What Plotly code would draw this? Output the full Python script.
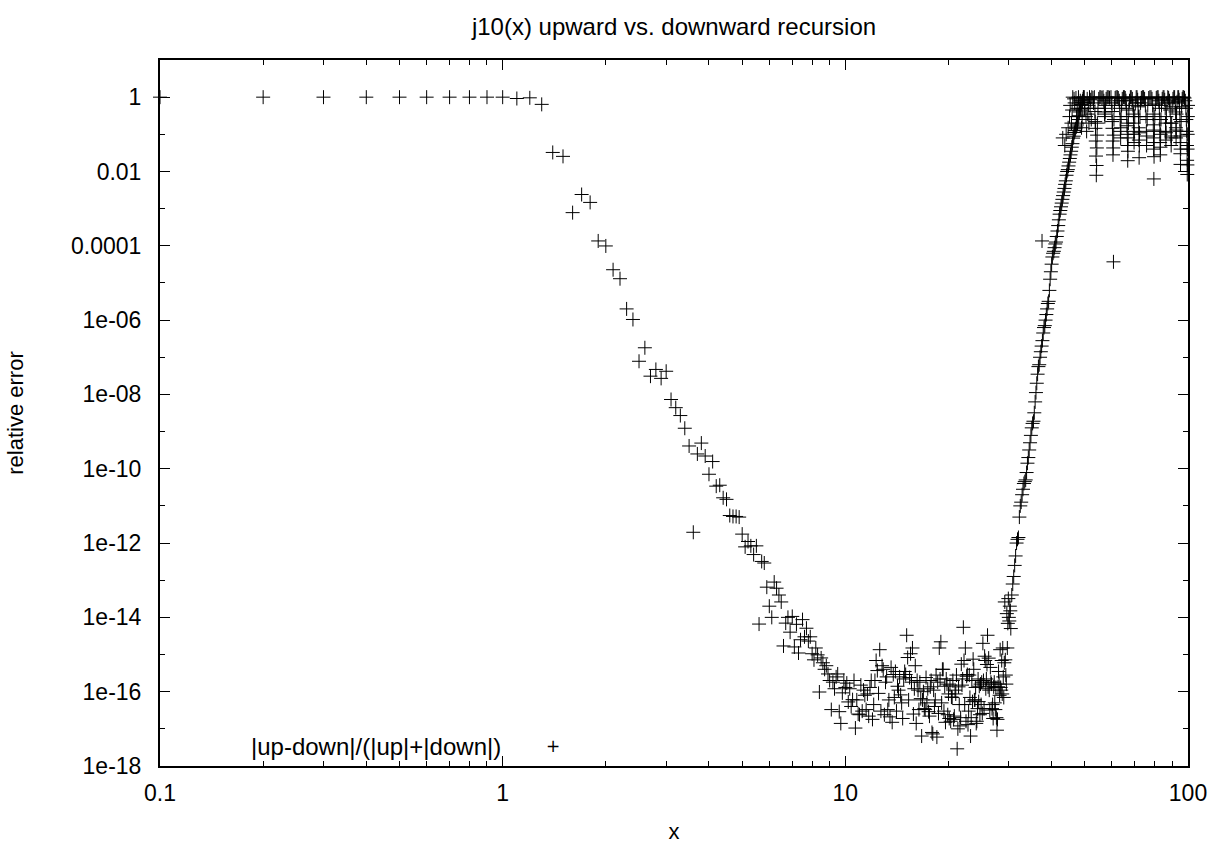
import plotly.graph_objects as go

# relative error |up-down|/(|up|+|down|) of j10(x), read point by point
x_flat = [0.1, 0.2, 0.3, 0.4, 0.5, 0.6, 0.7, 0.8, 0.9, 1.0, 1.1, 1.2, 1.3]
y_flat = [1.0, 1.0, 1.0, 1.0, 1.0, 1.0, 1.0, 1.0, 1.0, 1.0, 0.92, 0.96, 0.64]

x_decay = [1.4, 1.5, 1.6, 1.7, 1.8, 1.9, 2.0, 2.1, 2.2, 2.3, 2.4, 2.5, 2.6, 2.7, 2.8, 2.9,
           3.0, 3.1, 3.2, 3.3, 3.4, 3.5, 3.6, 3.7, 3.8, 3.9, 4.0, 4.1, 4.2, 4.3, 4.4, 4.5,
           4.6, 4.7, 4.8, 4.9, 5.0, 5.1, 5.2, 5.3, 5.4, 5.5, 5.6, 5.7, 5.8, 5.9, 6.0, 6.1,
           6.2, 6.3, 6.4, 6.5, 6.6, 6.7, 6.8, 6.9, 7.0, 7.1, 7.2, 7.3, 7.4, 7.5, 7.6, 7.7,
           7.8, 7.9, 8.0, 8.1, 8.2, 8.3, 8.4, 8.5, 8.6, 8.7, 8.8, 8.9, 9.0, 9.1, 9.2, 9.3,
           9.4, 9.5, 9.6, 9.7, 9.8, 9.9, 10.0]
y_decay = [3.25e-2, 2.55e-2, 7.8e-4, 2.4e-3, 1.47e-3, 1.35e-4, 9.9e-5, 2.27e-5, 1.3e-5,
           2.0e-6, 1.04e-6, 7.8e-8, 1.8e-7, 3.1e-8, 4.7e-8, 2.7e-8, 4.2e-8, 7.3e-9, 4.4e-9,
           2.7e-9, 1.23e-9, 4.1e-10, 1.95e-12, 2.5e-10, 4.9e-10, 2.2e-10, 7.1e-11, 1.56e-10,
           3.4e-11, 3.6e-11, 1.65e-11, 1.5e-11, 5.5e-12, 5.2e-12, 5.2e-12, 5.0e-12, 1.74e-12,
           7.9e-13, 1.1e-12, 8.4e-13, 4.9e-13, 8.4e-13, 6.6e-15, 3.2e-13, 2.9e-13, 6.5e-14,
           2.0e-14, 1.0e-14, 8.9e-14, 6.1e-14, 4.0e-14, 2.6e-14, 1.7e-15, 7.0e-15, 1.0e-14,
           4.0e-15, 1.06e-14, 1.6e-15, 6.5e-15, 1.1e-15, 2.5e-15, 8.7e-15, 3.0e-15, 5.1e-15,
           2.3e-15, 3.0e-15, 1.05e-15, 7.2e-16, 1.5e-15, 9.8e-16, 9.8e-17, 8.1e-16, 6.0e-16,
           4.0e-16, 5.0e-16, 3.0e-16, 2.0e-16, 3.3e-17, 1.8e-16, 1.2e-16, 2.5e-16, 3.0e-16,
           2.9e-17, 1.4e-17, 9.3e-17, 2.0e-16, 1.3e-16]

x_noise = [10.1, 10.2, 10.5, 10.7, 11.0, 11.3, 11.5, 11.6, 11.8, 12.0, 12.2, 12.3, 12.4,
           12.6, 12.9, 13.1, 13.3, 13.5, 13.8, 14.3, 14.5, 14.7, 14.8, 15.0, 15.1, 15.2,
           15.5, 15.6, 15.7, 16.2, 16.3, 16.4, 16.7, 16.8, 17.1, 17.5, 17.7, 18.0, 18.3,
           18.5, 18.6, 18.8, 18.9, 19.0, 19.3, 19.8, 19.9, 20.0, 20.1, 20.4, 20.7, 21.0,
           21.2, 21.4, 22.0, 22.1, 22.2, 22.4, 22.7, 23.0, 23.2, 23.5, 23.9, 24.1, 24.5,
           24.8, 25.1, 25.2, 25.3, 25.6, 25.9, 26.0, 26.1, 26.5, 26.6, 26.9, 27.0, 27.1,
           27.4, 27.7, 27.8, 27.9, 28.3, 28.5, 28.6, 28.7, 28.8, 28.9, 29.2, 29.3, 29.4,
           29.6, 29.8, 29.9, 30.1, 30.2, 30.3, 30.4]
y_noise = [1.7e-16, 5.3e-17, 6.1e-17, 1.05e-17, 2.4e-17, 1.1e-16, 3.3e-17, 8.7e-17, 1.3e-16,
           1.8e-17, 2.0e-16, 6.9e-16, 3.7e-16, 1.35e-15, 4.0e-16, 1.8e-16, 3.3e-17, 2.1e-17,
           2.9e-16, 1.1e-16, 8.2e-17, 1.9e-17, 2.2e-16, 2.9e-16, 3.3e-15, 8.3e-16, 1.05e-15,
           1.8e-16, 1.5e-15, 2.0e-16, 1.1e-16, 3.3e-17, 6.4e-18, 6.0e-17, 3.3e-17, 2.9e-17,
           1.35e-16, 7.3e-18, 6.0e-17, 6.0e-18, 1.8e-16, 1.5e-15, 2.2e-16, 2.2e-15, 4.0e-16,
           1.6e-16, 2.4e-17, 8.7e-17, 1.9e-17, 7.2e-17, 1.8e-17, 8.7e-17, 2.9e-18, 1.35e-16,
           2.2e-16, 5.4e-15, 6.9e-16, 1.5e-15, 2.9e-16, 2.8e-16, 6.4e-18, 5.4e-17, 6.0e-17,
           1.4e-17, 5.4e-17, 1.6e-16, 2.6e-17, 2.0e-15, 2.0e-16, 6.9e-16, 5.4e-16, 3.3e-15,
           1.35e-16, 4.5e-16, 1.8e-16, 4.5e-17, 1.9e-17, 1.35e-16, 3.3e-17, 9.2e-18, 1.8e-17,
           1.35e-16, 1.35e-15, 1.1e-16, 6.9e-16, 8.7e-17, 1.5e-15, 2.5e-16, 2.6e-14, 7.2e-16,
           2.8e-16, 1.26e-14, 6.9e-15, 3.2e-14, 8.0e-15, 2.0e-14, 1.5e-14, 5.0e-15]

# the denser, overlapping marks of the round-off floor between 10 and 30
x_floor = [10.3, 10.4, 10.6, 10.8, 10.9, 11.1, 11.2, 11.4, 11.7, 11.9, 12.1, 12.5, 12.7,
           12.8, 13.0, 13.2, 13.4, 13.6, 13.7, 13.9, 14.0, 14.1, 14.2, 14.4, 14.6, 14.9,
           15.3, 15.4, 15.8, 15.9, 16.0, 16.1, 16.5, 16.6, 16.9, 17.0, 17.2, 17.3, 17.4,
           17.6, 17.8, 17.9, 18.1, 18.2, 18.4, 18.7, 19.1, 19.2, 19.4, 19.5, 19.6, 19.7,
           20.2, 20.3, 20.5, 20.6, 20.8, 20.9, 21.1, 21.3, 21.5, 21.6, 21.7, 21.8, 21.9,
           22.3, 22.5, 22.6, 22.8, 22.9, 23.1, 23.3, 23.4, 23.6, 23.7, 23.8, 24.0, 24.2,
           24.3, 24.4, 24.6, 24.7, 24.9, 25.0, 25.4, 25.5, 25.7, 25.8, 26.2, 26.3, 26.4,
           26.7, 26.8, 27.2, 27.3, 27.5, 27.6, 28.0, 28.1, 28.2, 28.4, 29.0, 29.1, 29.5,
           29.7, 30.0]
y_floor = [1.2e-16, 4.0e-17, 2.0e-16, 6.0e-17, 2.5e-17, 1.5e-16, 3.0e-17, 8.0e-17, 2.2e-17,
           2.0e-16, 4.5e-17, 9.0e-17, 3.0e-17, 5.0e-16, 2.4e-17, 2.5e-16, 6.0e-17, 4.5e-16,
           1.5e-17, 7.0e-17, 3.5e-16, 3.0e-17, 1.4e-16, 2.5e-16, 5.0e-17, 3.5e-16, 6.0e-17,
           2.4e-16, 2.5e-17, 1.2e-16, 5.0e-16, 1.4e-17, 1.8e-16, 6.5e-17, 1.0e-16, 3.5e-17,
           2.4e-16, 5.0e-17, 1.2e-16, 2.2e-17, 2.0e-16, 8.0e-18, 1.1e-16, 4.0e-17, 2.8e-16,
           2.6e-17, 5.0e-17, 4.0e-16, 3.0e-17, 1.4e-16, 1.5e-17, 2.2e-16, 1.5e-16, 1.6e-17,
           7.0e-17, 2.0e-16, 2.2e-17, 1.1e-16, 2.8e-16, 1.0e-17, 4.5e-17, 1.2e-17, 2.0e-17,
           5.5e-16, 1.5e-16, 4.5e-17, 1.6e-17, 2.6e-16, 1.3e-17, 3.0e-17, 7.0e-17, 2.0e-17,
           2.0e-16, 7.5e-16, 4.0e-16, 6.0e-17, 1.3e-16, 1.6e-17, 3.5e-17, 2.2e-16, 1.4e-16,
           2.4e-17, 4.5e-17, 1.8e-16, 3.5e-17, 9.0e-16, 1.2e-16, 2.2e-16, 8.0e-16, 1.1e-16,
           3.2e-17, 1.6e-16, 3.5e-17, 1.8e-16, 5.0e-17, 1.3e-16, 2.0e-17, 3.5e-16, 1.6e-16,
           8.0e-17, 1.3e-16, 7.0e-17, 6.0e-16, 1.6e-16, 1.5e-15, 1.0e-14]

x_rise = [30.6, 30.8, 31.0, 31.2, 31.4, 31.6, 31.8, 32.0, 32.2, 32.4, 32.6, 32.8, 33.0, 33.2,
          33.4, 33.6, 33.8, 34.0, 34.2, 34.4, 34.6, 34.8, 35.0, 35.2, 35.4, 35.6, 35.8, 36.0,
          36.2, 36.4, 36.6, 36.8, 37.0, 37.2, 37.4, 37.6, 37.8, 38.0, 38.2, 38.4, 38.6, 38.8,
          39.0, 39.2, 39.4, 39.6, 39.8, 40.0, 40.2, 40.4, 40.6, 40.8, 41.0, 41.2, 41.4, 41.6,
          41.8, 42.0, 42.2, 42.4, 42.6, 42.8, 43.0, 43.2, 43.4, 43.6, 43.8, 44.0, 44.2, 44.4,
          44.6, 44.8, 45.0, 45.2, 45.4, 45.6, 45.8, 46.0, 46.2, 46.4, 46.6, 46.8, 47.0, 47.2,
          47.4, 47.6, 47.8, 48.0, 48.2, 48.4, 48.6, 48.8, 49.0, 49.2, 49.4, 49.6, 49.8]
y_rise = [4.0e-14, 7.9e-14, 1.26e-13, 2.5e-13, 4.5e-13, 1.0e-12, 1.26e-12, 1.41e-12, 5.0e-12,
          1.0e-11, 1.26e-11, 2.0e-11, 2.8e-11, 4.0e-11, 4.5e-11, 5.0e-11, 7.9e-11, 1.41e-10,
          2.0e-10, 3.2e-10, 5.0e-10, 7.9e-10, 1.26e-9, 1.66e-9, 1.9e-9, 3.2e-9, 6.3e-9,
          1.12e-8, 2.0e-8, 3.5e-8, 5.6e-8, 6.3e-8, 1.0e-7, 1.41e-7, 2.0e-7, 2.8e-7, 4.5e-7,
          6.3e-7, 7.1e-7, 1.0e-6, 1.41e-6, 2.0e-6, 2.8e-6, 3.2e-6, 6.3e-6, 1.26e-5, 2.0e-5,
          3.2e-5, 5.0e-5, 6.3e-5, 7.1e-5, 8.9e-5, 1.12e-4, 1.26e-4, 1.78e-4, 2.5e-4, 3.5e-4,
          5.0e-4, 7.1e-4, 8.9e-4, 1.12e-3, 1.41e-3, 1.78e-3, 2.24e-3, 2.8e-3, 3.5e-3, 4.5e-3,
          5.6e-3, 7.9e-3, 1.0e-2, 1.12e-2, 1.41e-2, 1.78e-2, 2.24e-2, 2.8e-2, 3.5e-2, 4.5e-2,
          5.6e-2, 7.9e-2, 8.9e-2, 0.112, 0.126, 0.141, 0.158, 0.178, 0.2, 0.25, 0.316, 0.4,
          0.45, 0.5, 0.63, 0.71, 0.79, 0.89, 1.0, 1.0]

x_mix = [37.5, 43.1, 43.7, 44.1, 44.7, 45.1, 45.3, 45.7, 45.9, 46.1, 46.5, 46.7, 47.1, 47.3,
         47.5, 47.9, 48.1, 48.5, 48.9, 49.1, 49.5, 49.9, 50.0, 50.4, 50.6, 50.8, 51.0, 51.2,
         51.4, 51.6, 51.8, 52.0, 52.2, 52.4, 52.8, 53.0]
y_mix = [1.35e-4, 0.08, 0.05, 0.1, 0.15, 0.3, 0.6, 0.2, 0.45, 1.0, 0.9, 0.7, 0.95, 0.3, 0.5,
         1.0, 0.6, 0.8, 0.15, 0.3, 1.0, 0.5, 0.7, 0.3, 0.12, 0.9, 0.35, 0.6, 0.2, 1.0, 0.5,
         0.85, 0.25, 1.0, 0.95, 0.7]

x_sat = [53.3, 53.5, 53.6, 53.7, 53.8, 53.9, 54.0, 54.1, 54.2, 54.3, 54.4, 54.6, 54.9, 55.3,
         55.7, 56.1, 56.5, 56.8, 57.0, 57.1, 57.2, 57.3, 57.4, 57.7, 58.1, 58.5, 59.0, 59.6,
         59.9, 60.0, 60.1, 60.2, 60.3, 60.4, 60.5, 60.6, 60.7, 60.8, 61.0, 61.3, 61.7, 62.2,
         62.6, 63.0, 63.2, 63.4, 63.5, 63.6, 63.7, 63.8, 64.0, 64.3, 64.8, 65.2, 65.6, 65.9,
         66.1, 66.3, 66.4, 66.5, 66.6, 66.7, 66.8, 66.9, 67.0, 67.2, 67.5, 67.9, 68.3, 68.8,
         69.1, 69.3, 69.4, 69.5, 69.6, 69.7, 69.9, 70.2, 70.6, 71.0, 71.3, 71.5, 71.7, 71.8,
         71.9, 72.0, 72.1, 72.2, 72.4, 72.7, 73.1, 73.6, 74.2, 74.7, 75.1, 75.4, 75.6, 75.7,
         75.8, 76.0, 76.3, 76.8, 77.4, 78.0, 78.5, 78.9, 79.1, 79.2, 79.3, 79.4, 79.5, 79.6,
         79.7, 79.8, 80.0, 80.3, 80.8, 81.3, 81.8, 82.2, 82.5, 82.7, 82.8, 82.9, 83.0, 83.1,
         83.2, 83.4, 83.7, 84.1, 84.6, 85.1, 85.5, 85.8, 86.0, 86.1, 86.2, 86.3, 86.5, 86.8,
         87.3, 87.8, 88.3, 88.7, 89.0, 89.2, 89.3, 89.4, 89.6, 89.9, 90.4, 90.9, 91.4, 91.8,
         92.0, 92.2, 92.3, 92.4, 92.6, 92.9, 93.4, 93.9, 94.2, 94.5, 94.7, 94.8, 94.9, 95.0,
         95.1, 95.2, 95.3, 95.5, 95.8, 96.2, 96.7, 97.2, 97.7, 98.2, 98.6, 98.9, 99.1, 99.3,
         99.4, 99.5, 99.6, 99.7, 99.8, 99.9, 100.0]
y_sat = [1.0, 0.41, 0.22, 0.145, 0.066, 0.026, 0.0079, 0.0145, 0.043, 0.095, 0.2, 0.5, 0.9,
         1.0, 1.0, 0.95, 1.0, 0.8, 0.5, 0.35, 0.3, 0.4, 0.6, 0.9, 1.0, 1.0, 0.97, 1.0, 0.7,
         0.41, 0.22, 0.145, 0.066, 0.028, 0.043, 3.7e-5, 0.095, 0.25, 0.6, 0.95, 1.0, 1.0,
         0.95, 0.8, 0.5, 0.25, 0.12, 0.08, 0.15, 0.3, 0.6, 0.9, 1.0, 1.0, 0.95, 0.8, 0.5, 0.3,
         0.17, 0.1, 0.05, 0.0195, 0.035, 0.08, 0.2, 0.45, 0.8, 1.0, 1.0, 0.9, 0.6, 0.35, 0.2,
         0.1, 0.06, 0.12, 0.3, 0.7, 1.0, 1.0, 0.85, 0.55, 0.3, 0.15, 0.07, 0.0235, 0.05, 0.11,
         0.3, 0.7, 0.95, 1.0, 1.0, 0.9, 0.6, 0.3, 0.12, 0.05, 0.09, 0.25, 0.6, 0.95, 1.0, 1.0,
         0.9, 0.6, 0.35, 0.18, 0.08, 0.04, 0.0063, 0.025, 0.06, 0.13, 0.3, 0.65, 0.95, 1.0,
         1.0, 0.8, 0.5, 0.25, 0.12, 0.06, 0.028, 0.045, 0.1, 0.25, 0.6, 0.9, 1.0, 1.0, 0.85,
         0.5, 0.2, 0.12, 0.07, 0.11, 0.3, 0.7, 1.0, 0.95, 0.8, 0.45, 0.2, 0.09, 0.05, 0.08,
         0.2, 0.55, 0.9, 1.0, 1.0, 0.7, 0.4, 0.15, 0.08, 0.13, 0.35, 0.75, 1.0, 1.0, 0.85, 0.5,
         0.25, 0.12, 0.06, 0.03, 0.0155, 0.04, 0.09, 0.22, 0.55, 0.9, 1.0, 1.0, 0.95, 0.8, 0.5,
         0.25, 0.12, 0.05, 0.02, 0.0083, 0.015, 0.04, 0.1, 0.3, 0.6]

x_ticks = [0.1, 1, 10, 100]
x_tick_text = ["0.1", "1", "10", "100"]
x_minor = [0.2, 0.3, 0.4, 0.5, 0.6, 0.7, 0.8, 0.9, 2, 3, 4, 5, 6, 7, 8, 9,
           20, 30, 40, 50, 60, 70, 80, 90]
y_ticks = [1, 1e-2, 1e-4, 1e-6, 1e-8, 1e-10, 1e-12, 1e-14, 1e-16, 1e-18]
y_tick_text = ["1", "0.01", "0.0001", "1e-06", "1e-08", "1e-10", "1e-12", "1e-14",
               "1e-16", "1e-18"]
y_minor = [10, 1e-1, 1e-3, 1e-5, 1e-7, 1e-9, 1e-11, 1e-13, 1e-15, 1e-17]

series_name = "|up-down|/(|up|+|down|)"

x_all = x_flat + x_decay + x_noise + x_floor + x_rise + x_mix + x_sat
y_all = y_flat + y_decay + y_noise + y_floor + y_rise + y_mix + y_sat

FONT = "Liberation Sans, Arial, sans-serif"
FS = 23

fig = go.Figure(go.Scatter(
    x=x_all, y=y_all, mode="markers", name=series_name, showlegend=False,
    cliponaxis=False,
    marker=dict(symbol="cross-thin", size=10, color="black",
                line=dict(width=1, color="black")),
))

axis_common = dict(
    type="log", showgrid=False, zeroline=False, showline=True, linecolor="black",
    linewidth=2, mirror="ticks", ticks="inside", ticklen=10, tickwidth=1,
    tickcolor="black", tickfont=dict(family=FONT, size=FS, color="black"),
)

# key placed inside the frame, bottom left: label then sample mark
key_y = (780 - 760) / 720

fig.update_layout(
    width=1220, height=852,
    margin=dict(l=160, r=32, t=60, b=72),
    paper_bgcolor="white", plot_bgcolor="white",
    font=dict(family=FONT, size=FS, color="black"),
    title=dict(text="j10(x) upward vs. downward recursion", x=0.5, xref="paper",
               xanchor="center", y=1 - 27 / 852, yref="container", yanchor="middle",
               font=dict(family=FONT, size=24, color="black")),
    xaxis=dict(axis_common, range=[-1, 2], tickmode="array", tickvals=x_ticks,
               ticktext=x_tick_text, ticklabelstandoff=5,
               minor=dict(ticks="inside", ticklen=5, tickwidth=1, tickcolor="black",
                          tickmode="array", tickvals=x_minor, showgrid=False),
               title=dict(text="x", standoff=19, font=dict(family=FONT, size=22))),
    yaxis=dict(axis_common, range=[-18, 1], tickmode="array", tickvals=y_ticks,
               ticktext=y_tick_text, ticklabelstandoff=12,
               minor=dict(ticks="inside", ticklen=5, tickwidth=1, tickcolor="black",
                          tickmode="array", tickvals=y_minor, showgrid=False),
               title=dict(text="relative error", standoff=41,
                          font=dict(family=FONT, size=22))),
    annotations=[
        dict(text=series_name, xref="paper", yref="paper", x=(503 - 160) / 1028,
             y=key_y, xanchor="right", yanchor="middle", showarrow=False,
             font=dict(family=FONT, size=24, color="black")),
        dict(text="+", xref="paper", yref="paper", x=(553 - 160) / 1028,
             y=key_y, xanchor="center", yanchor="middle", showarrow=False,
             font=dict(family="DejaVu Sans", size=17, color="black")),
    ],
)

fig.write_html("out.html")
